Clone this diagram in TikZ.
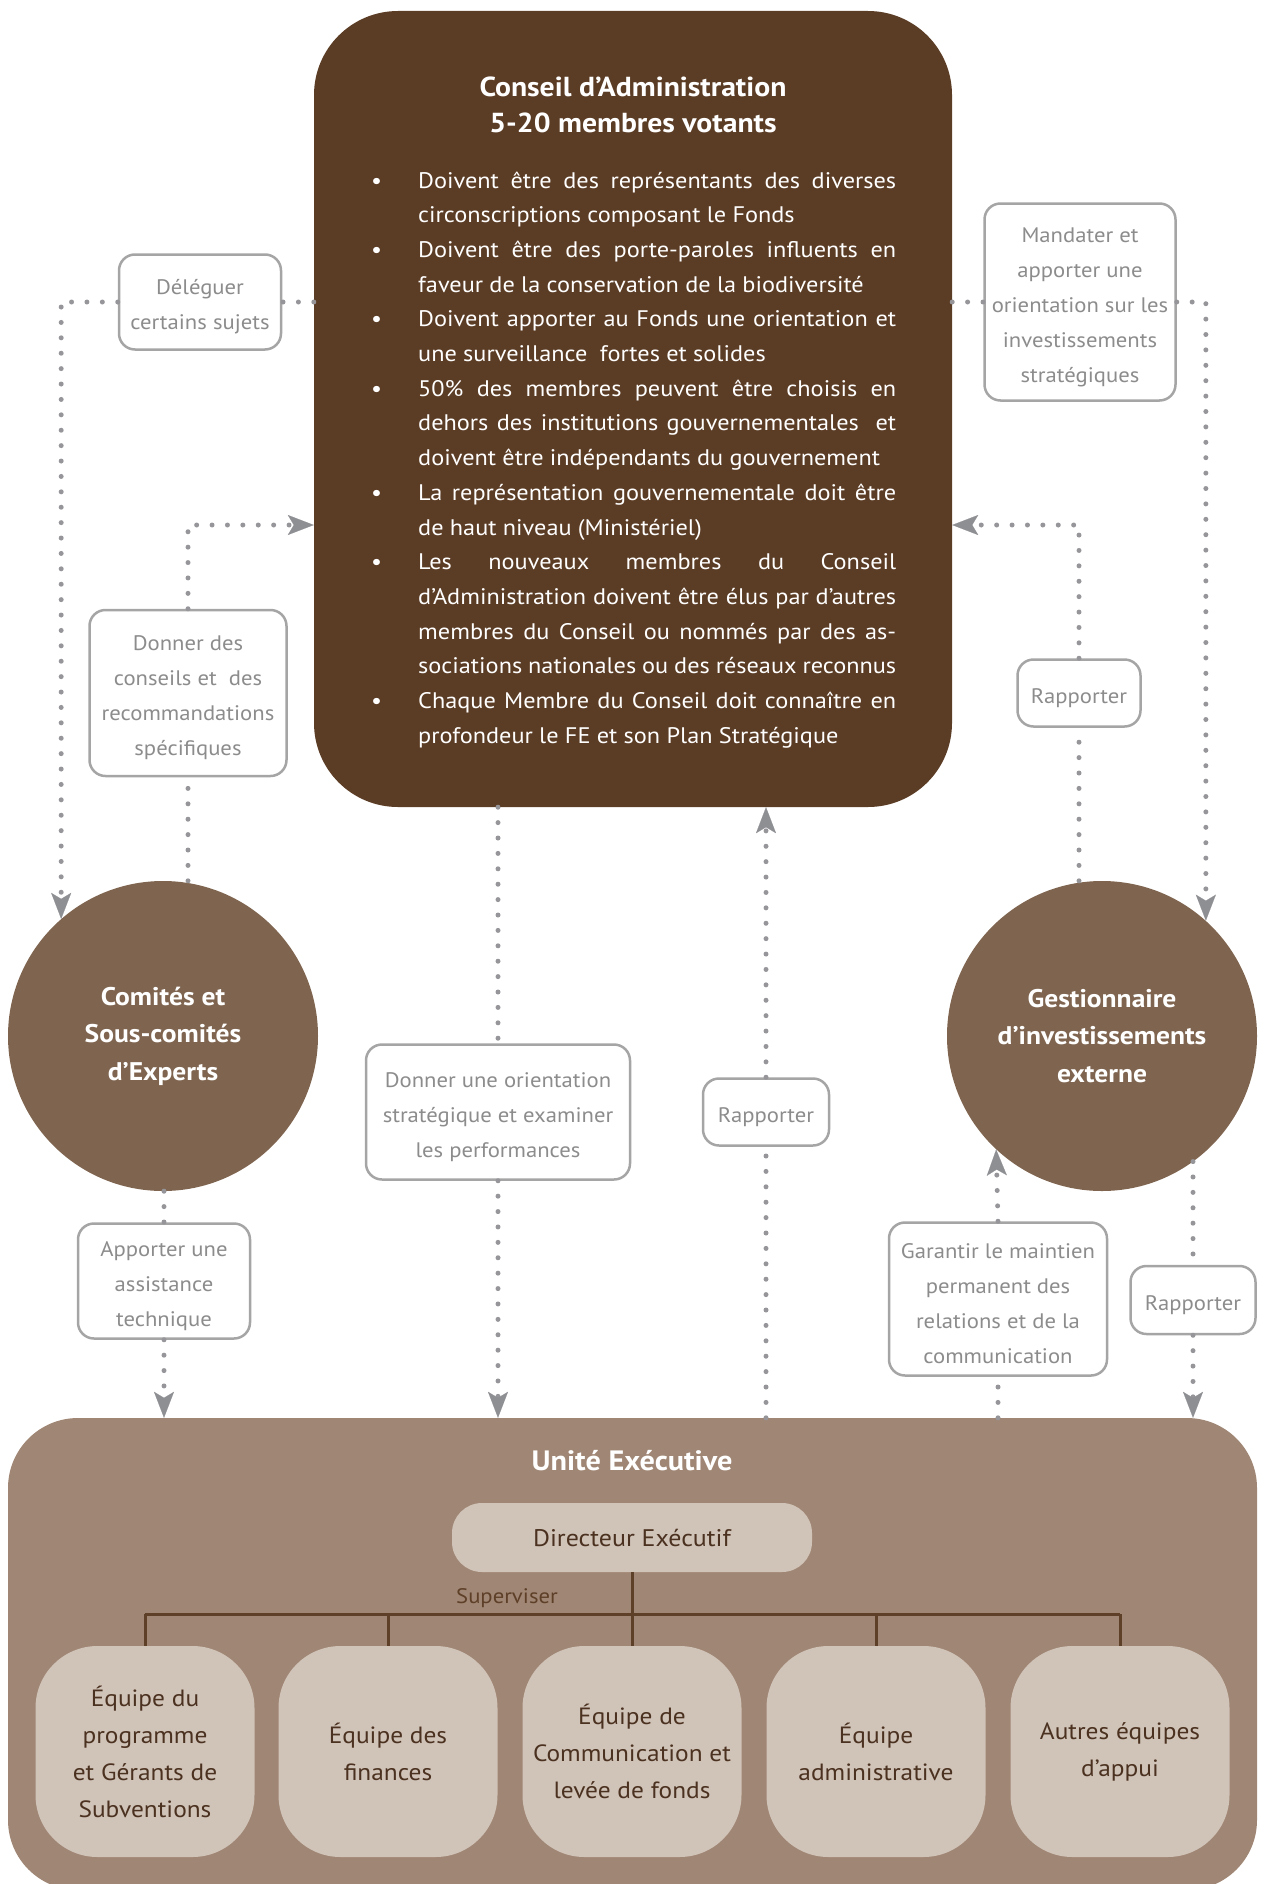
\documentclass[tikz,border=0pt]{standalone}
\usepackage{fontspec}
\setmainfont{PT Sans}[FakeStretch=1.08]
\usetikzlibrary{arrows.meta}

\definecolor{cabrown}{HTML}{5B3C25}
\definecolor{circbrown}{HTML}{7F6550}
\definecolor{uebrown}{HTML}{A08674}
\definecolor{beige}{HTML}{D0C3B8}
\definecolor{linkgray}{HTML}{96969A}
\definecolor{tipgray}{HTML}{8E8F93}
\definecolor{boxgray}{HTML}{A5A5A5}
\definecolor{lblgray}{HTML}{8C8C8C}
\definecolor{treebrown}{HTML}{5E3F28}
\definecolor{teamtext}{HTML}{4B311F}

% lines of the board list
\newcommand{\bodyspace}{\spaceskip=0.28em plus 1em minus 0.05em\relax}
\newcommand{\lfirst}[1]{\noindent\hbox to 49pt{\hskip2pt\textbullet\hfil}\makebox[478pt][s]{#1}\par}
\newcommand{\lmid}[1]{\noindent\hbox to 49pt{\hfil}\makebox[478pt][s]{#1}\par}
\newcommand{\llast}[1]{\noindent\hbox to 49pt{\hfil}#1\par}
% strut for the grey labels
\newcommand{\lt}{\rule{0pt}{25pt}}

\begin{document}
\begin{tikzpicture}[x=1pt, y=-1pt,
  cabox/.style={fill=cabrown, rounded corners=84pt, minimum width=638pt, minimum height=796pt, inner sep=0pt},
  catitle/.style={text=white, align=center, font=\bfseries\fontsize{27.5}{36}\selectfont},
  cabody/.style={text=white, text width=527pt, align=left, inner sep=0pt, font=\fontsize{22.5}{34.7}\selectfont},
  rond/.style={circle, fill=circbrown, minimum size=310pt, inner sep=0pt, text=white, align=center, font=\bfseries\fontsize{25.5}{37.5}\selectfont},
  uebox/.style={fill=uebrown, rounded corners=70pt, minimum width=1249pt, minimum height=472pt, inner sep=0pt},
  uetitle/.style={text=white, font=\bfseries\fontsize{28}{30}\selectfont},
  dirbox/.style={fill=beige, rounded corners=30pt, minimum width=360pt, minimum height=69pt, inner sep=0pt, text=teamtext, font=\fontsize{24}{30}\selectfont},
  team/.style={fill=beige, rounded corners=62pt, minimum width=219pt, minimum height=211pt, inner sep=0pt, text=teamtext, align=center, font=\fontsize{23.5}{37}\selectfont},
  tree/.style={draw=treebrown, line width=3pt},
  bartext/.style={text=treebrown, font=\fontsize{21}{22}\selectfont},
  lbl/.style={draw=boxgray, line width=2.5pt, fill=white, rounded corners=16pt, inner sep=0pt, text=lblgray, align=center, font=\fontsize{21}{35}\selectfont},
  link/.style={draw=linkgray, line width=5pt, line cap=round, dash pattern=on 0pt off 15.4pt},
  tip/.style={-{Stealth[length=26pt, width=20pt, inset=6pt, line width=0.1pt, color=tipgray]}}
]
\useasboundingbox (0,0) rectangle (1264,1884);

% board
\node[cabox] (ca) at (633,409) {};
\node[catitle] (catit) at (633,105) {Conseil d’Administration\\5-20 membres votants};
\node[cabody, anchor=base west] (cabul) at (369,188) {\bodyspace
\lfirst{Doivent être des représentants des diverses}
\llast{circonscriptions composant le Fonds}
\lfirst{Doivent être des porte-paroles influents en}
\llast{faveur de la conservation de la biodiversité}
\lfirst{Doivent apporter au Fonds une orientation et}
\llast{une surveillance\ \ fortes et solides}
\lfirst{50\% des membres peuvent être choisis en}
\lmid{dehors des institutions gouvernementales\ \ et}
\llast{doivent être indépendants du gouvernement}
\lfirst{La représentation gouvernementale doit être}
\llast{de haut niveau (Ministériel)}
\lfirst{Les nouveaux membres du Conseil}
\lmid{d’Administration doivent être élus par d’autres}
\lmid{membres du Conseil ou nommés par des as-}
\llast{sociations nationales ou des réseaux reconnus}
\lfirst{Chaque Membre du Conseil doit connaître en}
\llast{profondeur le FE et son Plan Stratégique}};

% circles
\node[rond] (cc) at (163,1036) {Comités et\\Sous-comités\\d’Experts};
\node[rond] (gi) at (1102,1036) {Gestionnaire\\d’investissements\\externe};

% executive unit
\node[uebox] (ue) at (632.5,1654) {};
\node[uetitle] (uet) at (632,1461) {Unité Exécutive};
\node[dirbox] (de) at (632,1537.5) {Directeur Exécutif};
\node[team] (t1) at (145,1751.5) {Équipe du\\programme\\et Gérants de\\Subventions};
\node[team] (t2) at (388,1751.5) {Équipe des\\finances};
\node[team] (t3) at (632,1751.5) {Équipe de\\Communication et\\levée de fonds};
\node[team] (t4) at (876,1751.5) {Équipe\\administrative};
\node[team] (t5) at (1120,1751.5) {Autres équipes\\d’appui};
\coordinate (bar) at (632,1614);
\draw[tree] (de.south) -- (bar);
\draw[tree] (t1.north |- bar) -- (t5.north |- bar);
\foreach \t in {t1,t2,t3,t4,t5}
  \draw[tree] (\t.north) -- (\t.north |- bar);
\node[bartext] (sv) at (507,1598) {Superviser};

% labels
\node[lbl, minimum width=162pt, minimum height=95pt] (del) at (200,302) {\lt Déléguer\\certains sujets};
\node[lbl, minimum width=191pt, minimum height=197pt] (man) at (1080,302) {\lt Mandater et\\apporter une\\orientation sur les\\investissements\\stratégiques};
\node[lbl, minimum width=197pt, minimum height=166pt] (con) at (188,693) {\lt Donner des\\conseils et\ \ des\\recommandations\\spécifiques};
\node[lbl, minimum width=123pt, minimum height=67pt] (rap1) at (1079,693) {\lt Rapporter};
\node[lbl, minimum width=264pt, minimum height=135pt] (ori) at (498,1112) {\lt Donner une orientation\\stratégique et examiner\\les performances};
\node[lbl, minimum width=126pt, minimum height=67pt] (rap2) at (766,1112) {\lt Rapporter};
\node[lbl, minimum width=172pt, minimum height=115pt] (ass) at (164,1281) {\lt Apporter une\\assistance\\technique};
\node[lbl, minimum width=218pt, minimum height=153pt] (gar) at (998,1299) {\lt Garantir le maintien\\permanent des\\relations et de la\\communication};
\node[lbl, minimum width=125pt, minimum height=68pt] (rap3) at (1193,1300) {\lt Rapporter};

% connectors
\draw[link] (ca.west |- del) -- (del.east);
\draw[link, tip] (del.west) -| (cc.131.6);
\draw[link] (ca.east |- man) -- (man.west);
\draw[link, tip] (man.east) -| (gi.48.9);
\draw[link] (con.south |- cc.north) -- (con.south);
\draw[link, tip] (con.north) |- ([yshift=-116pt]ca.west);
\draw[link] (rap1.south |- gi.north) -- (rap1.south);
\draw[link, tip] (rap1.north) |- ([yshift=-116pt]ca.east);
\draw[link] (ca.south -| ori) -- (ori.north);
\draw[link, tip] (ori.south) -- (ori.south |- ue.north);
\draw[link] (ue.north -| rap2) -- (rap2.south);
\draw[link, tip] (rap2.north) -- (rap2.north |- ca.south);
\draw[link] (ass.north |- cc.south) -- (ass.north);
\draw[link, tip] (ass.south) -- (ass.south |- ue.north);
\draw[link] (ue.north -| gar) -- (gar.south);
\draw[link, tip] (gar.north) -- (gi.227.9);
\draw[link] (rap3.north |- gi.306) -- (rap3.north);
\draw[link, tip] (rap3.south) -- (rap3.south |- ue.north);
\end{tikzpicture}
\end{document}
